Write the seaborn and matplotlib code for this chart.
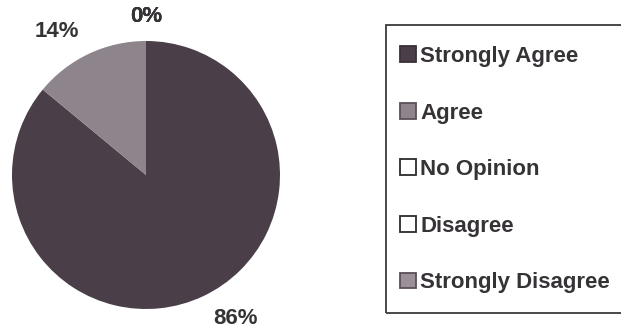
import matplotlib
matplotlib.use("Agg")
import matplotlib.pyplot as plt
from matplotlib.patches import Patch, Rectangle
import seaborn as sns

# Survey responses
categories = ["Strongly Agree", "Agree", "No Opinion", "Disagree", "Strongly Disagree"]
shares = [86, 14, 0, 0, 0]

sns.set_theme(style="white")
plt.rcParams["font.family"] = ["Liberation Sans", "DejaVu Sans"]

fill_colors = ["#4a3e48", "#8e848c", "#ffffff", "#ffffff", "#9a9097"]
edge_colors = ["#3a3038", "#5a5058", "#2b2b2b", "#2b2b2b", "#5a5058"]
text_color = "#363336"

W, H = 621, 332
fig = plt.figure(figsize=(W / 100, H / 100), dpi=100)
fig.patch.set_facecolor("white")

# Pie axes: centre (146, 175) px, radius 134 px
cx, cy, r = 146, 175, 134
ax = fig.add_axes([(cx - r) / W, (H - cy - r) / H, 2 * r / W, 2 * r / H])
wedges, texts = ax.pie(
    shares,
    colors=fill_colors,
    startangle=90,
    counterclock=False,
    labels=[f"{v}%" for v in shares],
    labeldistance=1.18,
    wedgeprops=dict(linewidth=0),
    textprops=dict(fontsize=16, fontweight="bold", color=text_color),
)
for t in texts:
    x, _ = t.get_position()
    if abs(x) < 0.05:
        t.set_horizontalalignment("center")
    t.set_clip_on(False)
ax.set_xlim(-1, 1)
ax.set_ylim(-1, 1)
ax.set_aspect("equal")
ax.axis("off")

# Legend frame (runs past the right edge)
fig.patches.append(Rectangle((386 / W, (H - 313) / H), 260 / W, (313 - 25) / H,
                             transform=fig.transFigure, facecolor="none",
                             edgecolor="#3a3a3a", linewidth=1.3))

handles = [Patch(facecolor=fc, edgecolor=ec, linewidth=1.3)
           for fc, ec in zip(fill_colors, edge_colors)]
leg = fig.legend(handles, categories, loc="upper left",
                 bbox_to_anchor=(400 / W, 1 - 46 / H), bbox_transform=fig.transFigure,
                 frameon=False, prop=dict(family="Liberation Sans", weight="bold", size=16),
                 handlelength=0.72, handleheight=0.72, handletextpad=0.2,
                 labelspacing=1.6, borderpad=0, borderaxespad=0)
for t in leg.get_texts():
    t.set_color(text_color)

fig.savefig("out.png", dpi=100, facecolor="white")
